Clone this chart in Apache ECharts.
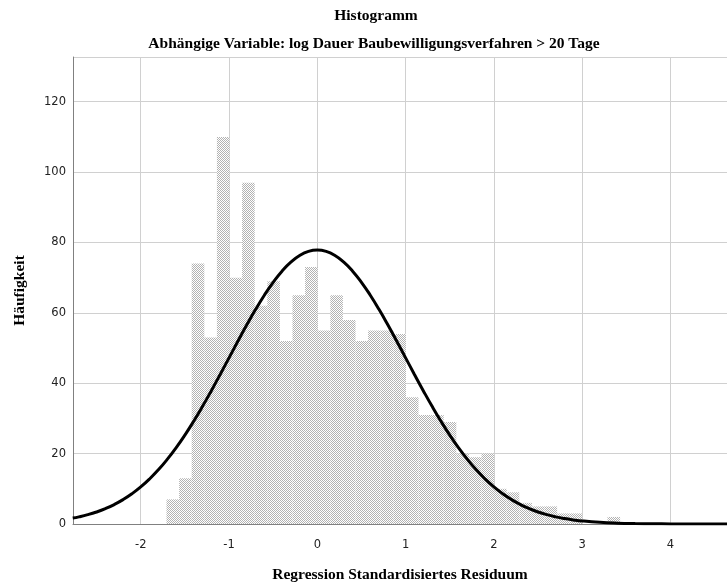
<!DOCTYPE html>
<html>
<head>
<meta charset="utf-8">
<script src="https://cdn.jsdelivr.net/npm/echarts@6/dist/echarts.min.js"></script>
<style>
  html, body { margin: 0; padding: 0; background: #ffffff; }
  #chart { width: 727px; height: 588px; }
</style>
</head>
<body>
<div id="chart"></div>
<script>
// Histogram bins of the standardized regression residuals
const binStart = -1.708;
const binWidth = 0.1427;
const binCounts = [
  7, 13, 74, 53, 110, 70, 97, 62, 69, 52,
  65, 73, 55, 65, 58, 52, 55, 55, 54, 36,
  31, 31, 29, 20, 19, 20, 10, 9, 6, 5,
  5, 3, 3, 0, 0, 2
];

// Fitted normal curve (frequency scale)
const curveX = [
  -2.77, -2.7, -2.6, -2.5, -2.4, -2.3, -2.2, -2.1, -2.0, -1.9, -1.8, -1.7, -1.6, -1.5, -1.4,
  -1.3, -1.2, -1.1, -1.0, -0.9, -0.8, -0.7, -0.6, -0.5, -0.4, -0.3, -0.2, -0.1, 0.0,
  0.1, 0.2, 0.3, 0.4, 0.5, 0.6, 0.7, 0.8, 0.9, 1.0, 1.1, 1.2, 1.3, 1.4, 1.5, 1.6, 1.7,
  1.8, 1.9, 2.0, 2.1, 2.2, 2.3, 2.4, 2.5, 2.6, 2.7, 2.8, 2.9, 3.0, 3.2, 3.4, 3.6, 3.8,
  4.0, 4.4, 4.7
];
const curveY = [
  1.68, 2.03, 2.65, 3.42, 4.37, 5.53, 6.92, 8.58, 10.53, 12.80, 15.40, 18.35, 21.64, 25.27, 29.21,
  33.43, 37.89, 42.50, 47.21, 51.91, 56.52, 60.92, 65.01, 68.69, 71.85, 74.41, 76.29, 77.45, 77.83,
  77.45, 76.29, 74.41, 71.85, 68.69, 65.01, 60.92, 56.52, 51.91, 47.21, 42.50, 37.89, 33.43, 29.21, 25.27, 21.64, 18.35,
  15.40, 12.80, 10.53, 8.58, 6.92, 5.53, 4.37, 3.42, 2.65, 2.03, 1.54, 1.16, 0.86, 0.47, 0.24, 0.12, 0.06,
  0.03, 0.005, 0.001
];

const titleText = 'Histogramm';
const subtitleText = 'Abhängige Variable: log Dauer Baubewilligungsverfahren > 20 Tage';
const xName = 'Regression Standardisiertes Residuum';
const yName = 'Häufigkeit';

// Dotted halftone fill for the bars
function dotPattern() {
  const c = document.createElement('canvas');
  c.width = 2; c.height = 2;
  const g = c.getContext('2d');
  g.fillStyle = '#ffffff';
  g.fillRect(0, 0, 2, 2);
  g.fillStyle = '#b2b2b2';
  g.fillRect(0, 0, 1, 1);
  g.fillRect(1, 1, 1, 1);
  return c;
}
const pattern = { image: dotPattern(), repeat: 'repeat' };

const binData = binCounts.map((n, i) => [binStart + i * binWidth, binStart + (i + 1) * binWidth, n]);
const curveData = curveX.map((x, i) => [x, curveY[i]]);

const serifFont = 'Liberation Serif';
const serifSize = 15.5;

const chart = echarts.init(document.getElementById('chart'), null, { renderer: 'canvas' });
chart.setOption({
  animation: false,
  backgroundColor: '#ffffff',
  graphic: [
    { type: 'text', x: 376, y: 16, style: { text: titleText, fontSize: serifSize, textAlign: 'center', textVerticalAlign: 'middle', fontFamily: serifFont, fontWeight: 'bold', fill: '#000' } },
    { type: 'text', x: 374, y: 44, style: { text: subtitleText, fontSize: serifSize, textAlign: 'center', textVerticalAlign: 'middle', fontFamily: serifFont, fontWeight: 'bold', fill: '#000' } }
  ],
  grid: { left: 73, right: 0, top: 57, bottom: 62, containLabel: false },
  xAxis: {
    type: 'value',
    min: -2.767,
    max: 4.64,
    splitNumber: 7,
    name: xName,
    nameLocation: 'middle',
    nameGap: 43,
    nameTextStyle: { fontSize: serifSize, fontFamily: serifFont, fontWeight: 'bold', color: '#000' },
    axisLine: { show: true, onZero: false, lineStyle: { color: '#808080', width: 1 } },
    axisTick: { show: false },
    axisLabel: { showMinLabel: false, showMaxLabel: false, margin: 15, fontFamily: 'DejaVu Sans', fontSize: 11.5, color: '#222' },
    splitLine: { show: true, lineStyle: { color: '#d0d0d0', width: 1 } }
  },
  yAxis: {
    type: 'value',
    min: 0,
    max: 132.7,
    interval: 20,
    name: yName,
    nameLocation: 'middle',
    nameRotate: 90,
    nameGap: 45,
    nameTextStyle: { fontSize: serifSize, fontFamily: serifFont, fontWeight: 'bold', color: '#000' },
    axisLine: { show: true, onZero: false, lineStyle: { color: '#808080', width: 1 } },
    axisTick: { show: false },
    axisLabel: { showMaxLabel: false, margin: 7, fontFamily: 'DejaVu Sans', fontSize: 11.5, color: '#222' },
    splitLine: { show: true, lineStyle: { color: '#d0d0d0', width: 1 } }
  },
  series: [
    {
      type: 'custom',
      data: binData,
      encode: { x: [0, 1], y: 2 },
      clip: true,
      renderItem: function (params, api) {
        const p0 = api.coord([api.value(0), api.value(2)]);
        const p1 = api.coord([api.value(1), 0]);
        return {
          type: 'rect',
          shape: { x: p0[0], y: p0[1], width: p1[0] - p0[0], height: p1[1] - p0[1] },
          style: { fill: pattern, stroke: null }
        };
      },
      z: 2
    },
    {
      type: 'line',
      data: curveData,
      smooth: true,
      symbol: 'none',
      clip: true,
      lineStyle: { color: '#000000', width: 3 },
      z: 3
    }
  ]
});
</script>
</body>
</html>
